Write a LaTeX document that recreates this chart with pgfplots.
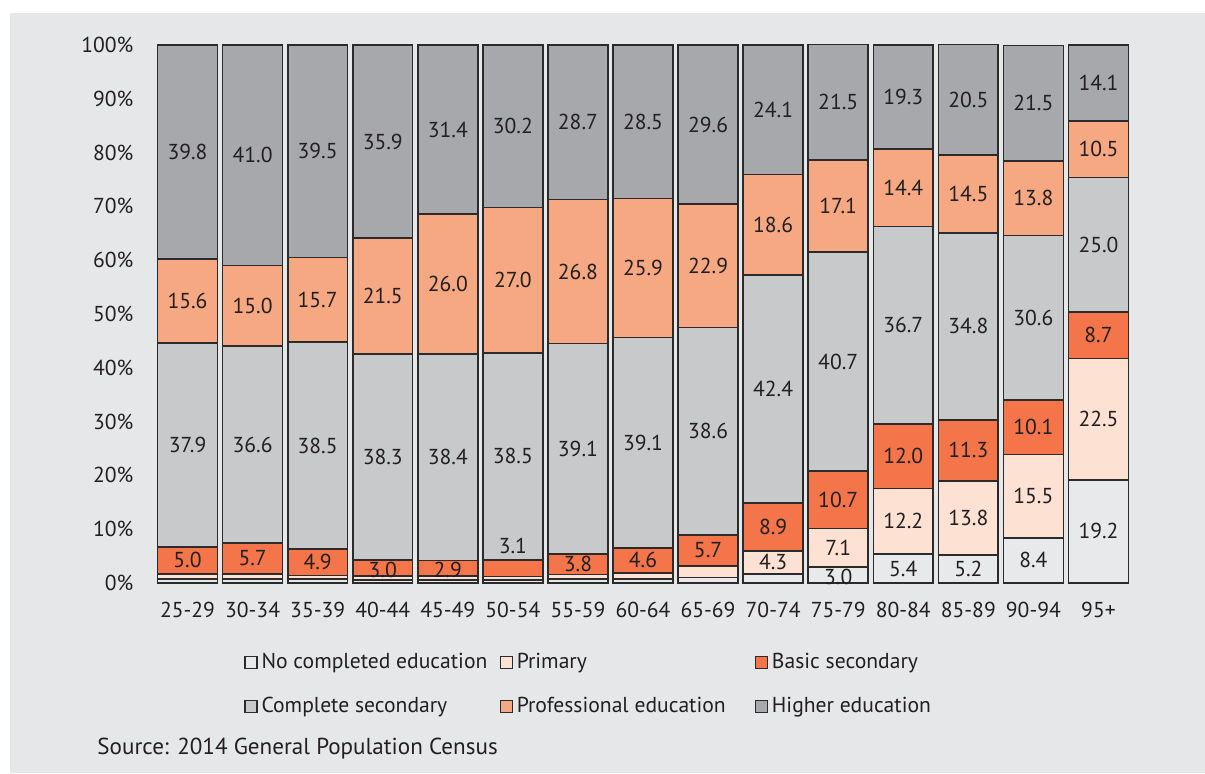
\documentclass[border=0pt]{standalone}
\usepackage{fontspec}
\setmainfont{PT Sans}
\usepackage{pgfplots}
\usepackage{pgfplotstable}
\pgfplotsset{compat=1.18}
\definecolor{bgc}{HTML}{E6E7E8}
\definecolor{cnone}{HTML}{E8E9EA}
\definecolor{cprim}{HTML}{FDE1D2}
\definecolor{cbasic}{HTML}{F37549}
\definecolor{ccomp}{HTML}{C8C9CB}
\definecolor{cprof}{HTML}{F6A882}
\definecolor{chigh}{HTML}{A7A8AB}
\definecolor{txt}{HTML}{231F20}
\definecolor{edge}{HTML}{2B2B2B}

\pgfplotstableread{
x none prim basic comp prof high
0 0.8 0.9 5.0 37.9 15.6 39.8
1 0.8 0.9 5.7 36.6 15.0 41.0
2 0.7 0.7 4.9 38.5 15.7 39.5
3 0.6 0.7 3.0 38.3 21.5 35.9
4 0.6 0.7 2.9 38.4 26.0 31.4
5 0.6 0.6 3.1 38.5 27.0 30.2
6 0.7 0.9 3.8 39.1 26.8 28.7
7 0.8 1.1 4.6 39.1 25.9 28.5
8 1.0 2.2 5.7 38.6 22.9 29.6
9 1.7 4.3 8.9 42.4 18.6 24.1
10 3.0 7.1 10.7 40.7 17.1 21.5
11 5.4 12.2 12.0 36.7 14.4 19.3
12 5.2 13.8 11.3 34.8 14.5 20.5
13 8.4 15.5 10.1 30.6 13.8 21.5
14 19.2 22.5 8.7 25.0 10.5 14.1
}\data

\pgfplotstableread{
x y label
0 4.2 5.0
0 25.65 37.9
0 52.4 15.6
0 80.1 39.8
1 4.55 5.7
1 25.7 36.6
1 51.5 15.0
1 79.5 41.0
2 3.85 4.9
2 25.55 38.5
2 52.65 15.7
2 80.25 39.5
3 2.5 3.0
3 23.45 38.3
3 53.35 21.5
3 82.05 35.9
4 2.5 2.9
4 23.4 38.4
4 55.6 26.0
4 84.3 31.4
5 6.9 3.1
5 23.55 38.5
5 56.3 27.0
5 84.9 30.2
6 3.5 3.8
6 24.95 39.1
6 57.9 26.8
6 85.65 28.7
7 4.2 4.6
7 26.05 39.1
7 58.55 25.9
7 85.75 28.5
8 6.05 5.7
8 28.2 38.6
8 58.95 22.9
8 85.2 29.6
9 3.85 4.3
9 10.45 8.9
9 36.1 42.4
9 66.6 18.6
9 87.95 24.1
10 1.2 3.0
10 6.55 7.1
10 15.45 10.7
10 41.15 40.7
10 70.05 17.1
10 89.35 21.5
11 2.7 5.4
11 11.5 12.2
11 23.6 12.0
11 47.95 36.7
11 73.5 14.4
11 90.35 19.3
12 2.6 5.2
12 12.1 13.8
12 24.65 11.3
12 47.7 34.8
12 72.35 14.5
12 89.85 20.5
13 4.2 8.4
13 16.15 15.5
13 28.95 10.1
13 49.3 30.6
13 71.5 13.8
13 89.15 21.5
14 9.6 19.2
14 30.45 22.5
14 46.05 8.7
14 62.9 25.0
14 80.65 10.5
14 92.95 14.1
}\labels

\begin{document}
\fontsize{10.8pt}{13pt}\selectfont
\begin{tikzpicture}
\path[use as bounding box] (0,0) rectangle (602.5pt,-386.5pt);
\fill[bgc] (5pt,-6.5pt) rectangle (602.5pt,-386.5pt);
\begin{axis}[
  at={(77.5pt,-291.5pt)}, anchor=south west,
  scale only axis, width=488pt, height=269pt,
  xmin=-0.5, xmax=14.5, ymin=0, ymax=100,
  ybar stacked, bar width=0.92,
  clip=false,
  axis line style={draw=none}, tick style={draw=none},
  xtick={0,...,14},
  xticklabels={25-29,30-34,35-39,40-44,45-49,50-54,55-59,60-64,65-69,70-74,75-79,80-84,85-89,90-94,95+},
  ytick={0,10,...,100},
  yticklabels={0\%,10\%,20\%,30\%,40\%,50\%,60\%,70\%,80\%,90\%,100\%},
  yticklabel style={xshift=-7pt, text=txt},
  xticklabel style={yshift=-6pt, text=txt},
  legend columns=3,
  legend cell align=left,
  legend style={draw=none, fill=none, at={(0.085,-0.115)}, anchor=north west,
    row sep=8.5pt, text=txt, /tikz/every even column/.append style={column sep=0pt}},
  legend image code/.code={\draw[#1, draw=edge, line width=0.6pt] (0pt,-3pt) rectangle (6pt,3pt);},
  every axis plot/.append style={draw=edge, line width=0.8pt},
]
\addplot[fill=cnone] table[x=x,y=none]{\data};
\addlegendentry{\makebox[117pt][l]{No completed education}}
\addplot[fill=cprim] table[x=x,y=prim]{\data};
\addlegendentry{\makebox[117pt][l]{Primary}}
\addplot[fill=cbasic] table[x=x,y=basic]{\data};
\addlegendentry{Basic secondary}
\addplot[fill=ccomp] table[x=x,y=comp]{\data};
\addlegendentry{\makebox[117pt][l]{Complete secondary}}
\addplot[fill=cprof] table[x=x,y=prof]{\data};
\addlegendentry{\makebox[117pt][l]{Professional education}}
\addplot[fill=chigh] table[x=x,y=high]{\data};
\addlegendentry{Higher education}
\end{axis}
\begin{axis}[
  at={(77.5pt,-291.5pt)}, anchor=south west,
  scale only axis, width=488pt, height=269pt,
  xmin=-0.5, xmax=14.5, ymin=0, ymax=100,
  hide axis, clip=false,
]
\addplot[draw=none, mark=none, nodes near coords, point meta=explicit symbolic,
  every node near coord/.append style={anchor=center, text=txt, inner sep=0pt}]
  table[x=x, y=y, meta=label]{\labels};
\end{axis}
\node[anchor=west, text=txt, inner sep=0pt, font=\fontsize{11.55pt}{14pt}\selectfont] at (48.5pt,-374.5pt) {Source: 2014 General Population Census};
\end{tikzpicture}
\end{document}
